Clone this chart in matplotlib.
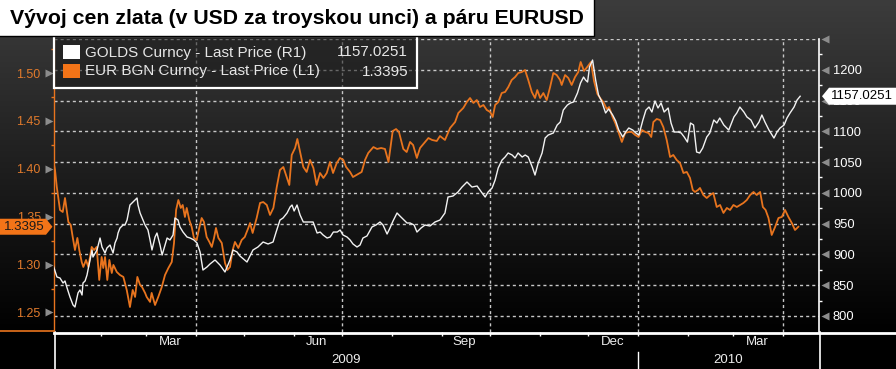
import numpy as np
import pandas as pd
import matplotlib
matplotlib.use('Agg')
import matplotlib.pyplot as plt
import matplotlib.dates as mdates
from matplotlib.transforms import blended_transform_factory, offset_copy
from matplotlib.patches import Rectangle, Polygon
from matplotlib.lines import Line2D

plt.rcParams['font.family'] = ['Liberation Sans', 'DejaVu Sans']

# ---------------- data ----------------
TITLE = "Vývoj cen zlata (v USD za troyskou unci) a páru EURUSD"
START = '2009-01-01'   # day numbers below count from this date

gold_day = [1.1, 3.5, 5.4, 7.3, 8.5, 9.8, 11.6, 13.5, 14.7, 16.6, 17.8, 19.1, 19.7, 21.0, 22.2, 22.8, 24.1, 25.3,
            25.9, 28.4, 30.3, 31.5, 33.4, 34.6, 36.5, 38.4, 39.6, 40.9, 41.5, 42.7, 44.6, 45.8, 47.1, 47.7, 48.9,
            50.8, 52.1, 53.3, 53.9, 55.2, 57.0, 58.3, 60.1, 61.4, 62.6, 64.5, 65.7, 67.6, 68.9, 70.7, 72.0, 73.8,
            75.7, 76.9, 78.8, 80.0, 81.9, 84.4, 86.3, 88.7, 90.6, 92.5, 94.3, 96.8, 98.7, 101.8, 104.9, 108.0,
            111.1, 113.0, 115.5, 117.3, 121.7, 125.4, 128.5, 131.7, 134.8, 137.9, 139.8, 142.2, 144.1, 146.6,
            148.5, 149.7, 151.0, 152.8, 154.7, 156.7, 159.8, 162.8, 165.3, 167.2, 169.0, 171.5, 173.4, 175.4,
            177.8, 179.6, 181.4, 183.9, 185.8, 187.6, 190.1, 192.0, 193.8, 196.3, 199.4, 201.9, 204.4, 206.3,
            208.8, 210.6, 212.5, 215.0, 216.8, 218.7, 221.2, 223.1, 225.6, 227.4, 229.9, 232.4, 235.5, 238.6,
            241.7, 244.8, 246.7, 249.8, 252.9, 255.4, 258.5, 261.6, 264.8, 267.9, 269.8, 271.6, 274.1, 276.0,
            277.9, 280.3, 282.2, 284.1, 286.6, 288.4, 290.3, 292.8, 294.7, 296.6, 299.1, 300.8, 302.8, 305.2,
            307.1, 309.0, 312.2, 314.6, 316.5, 318.4, 320.9, 322.8, 324.7, 327.2, 329.1, 331.0, 332.2, 333.5,
            334.7, 336.6, 338.5, 340.3, 342.2, 344.7, 346.6, 349.1, 351.0, 352.9, 355.4, 357.2, 359.1, 361.6,
            363.5, 365.4, 367.9, 369.8, 371.7, 373.5, 375.4, 377.3, 379.2, 381.1, 383.6, 385.4, 387.3, 389.8,
            391.7, 393.6, 395.6, 397.5, 399.4, 401.3, 403.2, 405.1, 407.6, 409.5, 412.0, 413.9, 415.7, 418.2,
            421.3, 424.5, 426.3, 428.2, 430.7, 432.6, 435.1, 437.6, 440.1, 441.9, 443.8, 446.3, 449.4, 451.3,
            453.2, 455.7, 457.5, 459.4, 461.9, 463.8, 465.7]
gold_price = [882.8, 863.4, 861.7, 853.6, 856.9, 845.5, 830.9, 817.9, 814.6, 837.4, 842.2, 834.1, 853.6, 856.9,
              866.6, 874.7, 891.0, 907.2, 895.8, 907.2, 926.7, 912.1, 902.3, 910.5, 915.3, 902.3, 918.6, 926.7,
              934.8, 942.9, 947.8, 947.8, 955.9, 964.1, 980.3, 985.2, 988.4, 991.7, 980.3, 967.3, 955.9, 947.8,
              939.7, 923.5, 907.2, 928.3, 934.8, 915.3, 899.1, 915.3, 926.7, 923.5, 931.6, 959.2, 955.9, 944.6,
              936.4, 928.3, 926.7, 923.5, 918.6, 904.0, 874.7, 879.6, 884.5, 891.0, 882.8, 871.5, 891.0, 907.2,
              904.0, 897.5, 887.7, 907.2, 912.1, 920.2, 917.0, 920.2, 936.4, 955.9, 959.2, 967.3, 977.1, 980.3,
              970.6, 980.3, 964.1, 952.7, 952.7, 952.7, 934.8, 936.4, 931.6, 926.7, 928.3, 936.4, 936.4, 939.7,
              931.6, 928.3, 923.5, 917.0, 912.1, 915.3, 926.7, 930.0, 944.6, 947.8, 952.7, 947.8, 933.2, 942.9,
              954.3, 967.3, 962.4, 957.6, 951.1, 951.1, 947.8, 936.4, 942.9, 947.8, 946.2, 952.7, 955.9, 967.3,
              993.3, 994.9, 1001.4, 1009.5, 1017.7, 1009.5, 1011.2, 999.8, 993.3, 1001.4, 1007.9, 1020.9, 1040.4,
              1053.4, 1058.3, 1064.8, 1061.5, 1056.7, 1064.8, 1058.3, 1061.5, 1058.3, 1042.0, 1029.0, 1048.5,
              1064.8, 1089.1, 1094.0, 1097.3, 1110.3, 1115.1, 1134.6, 1142.7, 1146.0, 1147.6, 1162.2, 1178.5,
              1188.2, 1183.4, 1180.1, 1204.5, 1215.8, 1183.4, 1159.0, 1149.2, 1129.8, 1136.3, 1126.5, 1116.8,
              1102.1, 1090.8, 1098.9, 1105.4, 1102.1, 1097.3, 1094.0, 1118.4, 1134.6, 1139.5, 1131.4, 1149.2,
              1137.9, 1146.0, 1131.4, 1137.9, 1113.5, 1098.9, 1098.9, 1097.3, 1090.8, 1082.6, 1113.5, 1110.3,
              1066.4, 1064.8, 1072.9, 1090.8, 1097.3, 1118.4, 1113.5, 1121.6, 1110.3, 1102.1, 1123.3, 1129.8,
              1139.5, 1131.4, 1123.3, 1118.4, 1105.4, 1115.1, 1126.5, 1115.1, 1102.1, 1089.1, 1098.9, 1105.4,
              1110.3, 1121.6, 1129.8, 1139.5, 1150.9, 1157.0]

eur_day = [1.2, 2.3, 3.4, 5.4, 7.1, 8.5, 10.6, 12.1, 13.3, 14.7, 16.2, 17.4, 18.9, 19.9, 21.6, 23.0, 25.1, 26.6,
           28.2, 29.8, 31.3, 32.3, 33.4, 34.8, 36.1, 37.6, 38.6, 40.7, 42.7, 44.8, 46.9, 48.9, 50.6, 52.1, 53.5,
           55.2, 56.4, 58.3, 59.3, 61.4, 62.4, 64.5, 66.5, 68.7, 70.7, 72.8, 74.9, 76.3, 77.6, 79.0, 80.5, 81.7,
           83.1, 84.2, 85.8, 87.3, 88.7, 90.4, 92.0, 93.5, 94.9, 96.6, 98.3, 99.8, 101.2, 102.4, 103.9, 106.0,
           108.0, 109.5, 111.1, 112.8, 114.2, 116.3, 118.4, 120.3, 122.5, 123.6, 125.2, 127.7, 129.8, 131.8,
           134.0, 136.0, 138.1, 140.2, 142.2, 144.3, 146.4, 148.0, 149.5, 151.6, 153.0, 154.7, 156.7, 158.8,
           160.9, 163.0, 165.0, 167.1, 169.2, 171.3, 173.3, 175.2, 177.5, 179.5, 181.6, 183.3, 185.8, 187.6,
           190.8, 193.0, 195.1, 197.1, 200.3, 202.6, 205.1, 207.5, 209.7, 212.3, 214.4, 216.2, 218.9, 221.0,
           223.1, 225.0, 227.3, 229.3, 232.4, 234.5, 236.8, 239.7, 241.7, 244.8, 248.0, 251.1, 253.1, 256.2,
           258.4, 260.4, 262.5, 264.6, 266.6, 268.7, 270.8, 272.9, 274.5, 276.0, 278.0, 280.1, 282.2, 284.2,
           286.3, 288.4, 290.4, 292.5, 294.6, 296.6, 298.8, 300.8, 302.2, 304.0, 306.0, 308.1, 310.2, 312.2,
           314.3, 316.4, 317.4, 319.5, 321.5, 323.6, 325.7, 327.7, 329.2, 331.3, 333.3, 335.6, 337.5, 339.6,
           341.7, 343.3, 345.4, 346.9, 349.0, 350.7, 352.7, 354.8, 356.9, 359.0, 361.0, 363.1, 365.2, 367.3,
           369.4, 371.4, 373.1, 374.4, 376.5, 378.6, 380.6, 382.7, 384.8, 386.8, 388.9, 391.0, 393.1, 395.2,
           397.2, 398.9, 400.3, 402.2, 403.4, 405.5, 407.6, 409.7, 411.7, 413.8, 415.9, 418.0, 420.1, 422.1,
           424.2, 426.3, 428.4, 430.4, 432.5, 434.6, 436.7, 438.7, 440.8, 442.5, 444.2, 446.0, 448.0, 450.1,
           452.2, 454.3, 456.3, 458.4, 460.5, 462.5, 464.6]
eur_rate = [1.4092, 1.3987, 1.3810, 1.3570, 1.3549, 1.3695, 1.3445, 1.3413, 1.3288, 1.3152, 1.3278, 1.3152,
            1.3027, 1.2975, 1.3048, 1.2975, 1.3184, 1.3152, 1.3184, 1.2839, 1.3079, 1.2964, 1.3079, 1.2839,
            1.3048, 1.2912, 1.2996, 1.2923, 1.2891, 1.2871, 1.2735, 1.2557, 1.2735, 1.2662, 1.2871, 1.2787,
            1.2766, 1.2704, 1.2662, 1.2610, 1.2704, 1.2578, 1.2662, 1.2766, 1.2891, 1.2964, 1.3027, 1.3225,
            1.3570, 1.3674, 1.3591, 1.3622, 1.3497, 1.3591, 1.3466, 1.3392, 1.3278, 1.3257, 1.3382, 1.3486,
            1.3445, 1.3288, 1.3236, 1.3184, 1.3278, 1.3382, 1.3278, 1.3225, 1.3017, 1.2944, 1.2975, 1.3152,
            1.3236, 1.3173, 1.3257, 1.3288, 1.3382, 1.3434, 1.3330, 1.3486, 1.3643, 1.3653, 1.3622, 1.3518,
            1.3591, 1.3810, 1.3987, 1.4019, 1.3914, 1.3831, 1.4144, 1.4217, 1.4311, 1.4175, 1.4019, 1.3967,
            1.4092, 1.4008, 1.3831, 1.3956, 1.3904, 1.3956, 1.4071, 1.3956, 1.4060, 1.4113, 1.4092, 1.4019,
            1.3967, 1.3914, 1.3946, 1.3967, 1.4092, 1.4165, 1.4227, 1.4207, 1.4217, 1.4207, 1.4071, 1.4394,
            1.4415, 1.4384, 1.4207, 1.4175, 1.4280, 1.4248, 1.4113, 1.4217, 1.4280, 1.4321, 1.4301, 1.4290,
            1.4342, 1.4301, 1.4426, 1.4488, 1.4582, 1.4635, 1.4697, 1.4739, 1.4687, 1.4718, 1.4645, 1.4666,
            1.4614, 1.4593, 1.4541, 1.4666, 1.4697, 1.4791, 1.4802, 1.4854, 1.4927, 1.4958, 1.5000, 1.5010,
            1.5031, 1.4927, 1.4802, 1.4739, 1.4822, 1.4739, 1.4791, 1.4718, 1.4854, 1.5000, 1.4979, 1.4927,
            1.4875, 1.4979, 1.4948, 1.4875, 1.4958, 1.5010, 1.5115, 1.5021, 1.5063, 1.5115, 1.4916, 1.4781,
            1.4729, 1.4697, 1.4624, 1.4645, 1.4541, 1.4478, 1.4384, 1.4280, 1.4374, 1.4384, 1.4384, 1.4353,
            1.4332, 1.4405, 1.4384, 1.4374, 1.4332, 1.4488, 1.4520, 1.4509, 1.4436, 1.4301, 1.4123, 1.4144,
            1.4092, 1.4060, 1.3956, 1.3967, 1.3904, 1.3779, 1.3758, 1.3779, 1.3800, 1.3726, 1.3695, 1.3726,
            1.3747, 1.3601, 1.3622, 1.3539, 1.3591, 1.3570, 1.3622, 1.3601, 1.3622, 1.3643, 1.3674, 1.3726,
            1.3758, 1.3726, 1.3758, 1.3601, 1.3570, 1.3486, 1.3309, 1.3392, 1.3486, 1.3497, 1.3570, 1.3497,
            1.3434, 1.3361, 1.3395]

gold_label = "GOLDS Curncy - Last Price (R1)"
eur_label = "EUR BGN Curncy - Last Price (L1)"
gold_last = "1157.0251"
eur_last = "1.3395"
gold_last_value = 1157.0251
eur_last_value = 1.3395

left_ticks = [1.25, 1.30, 1.35, 1.40, 1.45, 1.50]
left_minor = [1.275, 1.325, 1.375, 1.425, 1.475, 1.525]
right_ticks = [800, 850, 900, 950, 1000, 1050, 1100, 1150, 1200, 1250]
right_labels = ['800', '850', '900', '950', '1000', '1050', '1100', '1150', '1200', '']
right_minor = [825, 875, 925, 975, 1025, 1075, 1125, 1175, 1225]
quarter_lines = ['2009-04-01', '2009-07-01', '2009-10-01', '2010-01-01', '2010-04-01']
month_labels = ['Mar', 'Jun', 'Sep', 'Dec', 'Mar']
month_label_dates = ['2009-03-16', '2009-06-15', '2009-09-15', '2009-12-16', '2010-03-16']
year_labels = ['2009', '2010']
year_start = '2010-01-01'
x_range = ['2009-01-02 16:00', '2010-04-23 10:00']
left_range = (1.2296, 1.5355)
right_range = (774, 1250)

# ---------------- styling ----------------
W, H = 896, 369
ORANGE = '#e8741e'
ORANGE_TXT = '#e07a2c'
ORANGE_BOX = '#f37418'
WHITE = '#f2f2f2'
GRID = '#c8c8c8'
ARROW = '#8c8c8c'

fig = plt.figure(figsize=(W / 100, H / 100), dpi=100)
fig.patch.set_facecolor('black')


def fx(px):
    return px / W


def fy(py):
    return 1 - py / H


def box(l, t, r, b):
    return [fx(l), fy(b), fx(r) - fx(l), fy(t) - fy(b)]


# background gradient
bg = fig.add_axes([0, 0, 1, 1], zorder=-10)
bg.axis('off')
py = np.arange(H)
shade = np.clip(0.235 * (1 - py / 335.0), 0, None)
shade[py >= 332] = 0
img = np.repeat(shade[:, None, None], 3, axis=2)
bg.imshow(img, aspect='auto', extent=[0, 1, 0, 1], interpolation='bilinear')

start_num = mdates.date2num(pd.Timestamp(START))
gx = start_num + np.array(gold_day)
ex = start_num + np.array(eur_day)

ax = fig.add_axes(box(54, 39, 819, 332), zorder=1)
ax.set_facecolor('none')
ax2 = ax.twinx()
ax2.set_facecolor('none')

ax.set_ylim(*left_range)
ax2.set_ylim(*right_range)

# grid lines
hgrid_tr = blended_transform_factory(ax.transAxes, ax2.transData)
for v in right_ticks:
    ax.add_line(Line2D([0, 1], [v, v], transform=hgrid_tr, color=GRID, lw=1.0,
                       dashes=(2.2, 2.2), zorder=1))
for d in quarter_lines:
    ax.axvline(mdates.date2num(pd.Timestamp(d)), color=GRID, lw=1.0, dashes=(2.2, 2.2), zorder=1)

# series
ax.plot(ex, eur_rate, color=ORANGE, lw=1.3, zorder=3, solid_joinstyle='round')
ax2.plot(gx, gold_price, color=WHITE, lw=1.0, zorder=3, solid_joinstyle='round')

# spines
for s in ['top', 'right', 'bottom']:
    ax.spines[s].set_visible(False)
ax.spines['left'].set_color(ORANGE)
ax.spines['left'].set_linewidth(1.0)
for s in ['top', 'left', 'bottom']:
    ax2.spines[s].set_visible(False)
ax2.spines['right'].set_color('white')
ax2.spines['right'].set_linewidth(1.2)

# left axis ticks
ax.set_yticks(left_ticks)
ax.set_yticklabels([f'{v:.2f}' for v in left_ticks])
ax.set_yticks(left_minor, minor=True)
ax.tick_params(axis='y', which='major', length=0, pad=9.5, labelcolor=ORANGE_TXT, labelsize=9)
ax.tick_params(axis='y', which='minor', length=2.5, width=1, color=ORANGE, direction='out')

# right axis ticks
ax2.set_yticks(right_ticks)
ax2.set_yticklabels(right_labels)
ax2.set_yticks(right_minor, minor=True)
ax2.tick_params(axis='y', which='major', length=0, pad=10, labelcolor='white', labelsize=9.3)
ax2.tick_params(axis='y', which='minor', length=2.5, width=1, color='white', direction='out')

# arrow tick markers
lt = offset_copy(blended_transform_factory(ax.transAxes, ax.transData), fig=fig, x=-5, y=0, units='dots')
for v in left_ticks:
    ax.plot([0], [v], marker='>', ms=6, color=ARROW, mec='none', transform=lt, clip_on=False, zorder=4)
rt = offset_copy(blended_transform_factory(ax2.transAxes, ax2.transData), fig=fig, x=6, y=0, units='dots')
for v in right_ticks:
    ax2.plot([1], [v], marker='<', ms=6, color=ARROW, mec='none', transform=rt, clip_on=False, zorder=4)

# x axis
ax.xaxis.set_major_locator(mdates.MonthLocator())
ax.xaxis.set_minor_locator(matplotlib.ticker.NullLocator())
ax.tick_params(axis='x', which='major', length=3, width=1, color='white', direction='out', labelbottom=False)
ax.set_xlim(mdates.date2num(pd.Timestamp(x_range[0])), mdates.date2num(pd.Timestamp(x_range[1])))

xtr = blended_transform_factory(ax.transData, ax.transAxes)
for d, lab in zip(month_label_dates, month_labels):
    ax.text(mdates.date2num(pd.Timestamp(d)), -10 / 293, lab, transform=xtr, ha='center', va='center',
            color='#ececec', fontsize=9.5)
x0, x1 = ax.get_xlim()
ys = mdates.date2num(pd.Timestamp(year_start))
for (a, b), lab in zip([(x0, ys), (ys, x1)], year_labels):
    ax.text((a + b) / 2, -28 / 293, lab, transform=xtr, ha='center', va='center', color='#ececec',
            fontsize=9.5)


# frame lines in the lower band
def fline(xs, ys_, color, lw, z=6):
    fig.add_artist(Line2D([fx(v) for v in xs], [fy(v) for v in ys_], color=color, lw=lw,
                          transform=fig.transFigure, zorder=z))


fline([54, 896], [332.5, 332.5], 'white', 2.0)
fline([54.5, 54.5], [332, 369], 'white', 1.2)
fline([819.5, 819.5], [332, 369], 'white', 1.2)
sep_px = ax.transData.transform((ys, 0))[0]
fline([sep_px, sep_px], [352, 369], 'white', 1.0)
fline([0, 53.5], [330.5, 330.5], ORANGE, 1.2)

# legend
fig.add_artist(Rectangle((fx(54), fy(88)), fx(417) - fx(54), fy(36) - fy(88), transform=fig.transFigure,
                         facecolor=(0.1, 0.1, 0.1, 0.55), edgecolor='white', lw=1.6, zorder=7))
fig.add_artist(Rectangle((fx(63), fy(59)), fx(80) - fx(63), fy(45) - fy(59), transform=fig.transFigure,
                         facecolor='white', edgecolor='none', zorder=8))
fig.add_artist(Rectangle((fx(63), fy(78)), fx(80) - fx(63), fy(64) - fy(78), transform=fig.transFigure,
                         facecolor=ORANGE_BOX, edgecolor='none', zorder=8))
for yy, lab, val in [(52.5, gold_label, gold_last), (71.5, eur_label, eur_last)]:
    fig.text(fx(85), fy(yy), lab, ha='left', va='center', color='#e6e6e6', fontsize=11, zorder=9)
    fig.text(fx(408), fy(yy), val, ha='right', va='center', color='#e6e6e6', fontsize=11, zorder=9)

# last-value boxes
ey = H - ax.transData.transform((x0, eur_last_value))[1]
fig.add_artist(Polygon([(fx(0), fy(ey - 8)), (fx(46), fy(ey - 8)), (fx(52.5), fy(ey)), (fx(46), fy(ey + 8)),
                        (fx(0), fy(ey + 8))], closed=True, transform=fig.transFigure, facecolor=ORANGE_BOX,
                       edgecolor='none', zorder=8))
fig.text(fx(24), fy(ey), eur_last, ha='center', va='center', color='#1a1a1a', fontsize=9.5, zorder=9)

gy = H - ax2.transData.transform((x0, gold_last_value))[1]
fig.add_artist(Polygon([(fx(822), fy(gy)), (fx(829), fy(gy - 8.5)), (fx(896), fy(gy - 8.5)),
                        (fx(896), fy(gy + 8.5)), (fx(829), fy(gy + 8.5))], closed=True,
                       transform=fig.transFigure, facecolor='white', edgecolor='none', zorder=8))
fig.text(fx(862), fy(gy), gold_last, ha='center', va='center', color='black', fontsize=9.5, zorder=9)

# title box
fig.add_artist(Rectangle((fx(-2), fy(36)), fx(594) - fx(-2), fy(-2) - fy(36), transform=fig.transFigure,
                         facecolor='white', edgecolor='black', lw=1.0, zorder=10))
fig.text(fx(10), fy(19), TITLE, ha='left', va='center', color='black', fontsize=15.3, fontweight='bold',
         zorder=11)

fig.savefig('out.png', dpi=100, facecolor=fig.get_facecolor())
